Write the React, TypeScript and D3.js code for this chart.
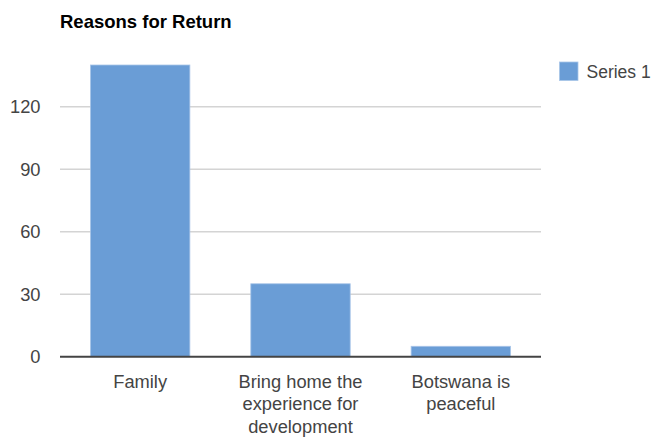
import React from "react";
import * as d3 from "d3";

const categories = ["Family", "Bring home the experience for development", "Botswana is peaceful"];
const categoryLines = [["Family"], ["Bring home the", "experience for", "development"], ["Botswana is", "peaceful"]];
const seriesValues = [140, 35, 5];
const yTicks = [0, 30, 60, 90, 120];
const seriesName = "Series 1";
const title = "Reasons for Return";

export default function App() {
  const W = 655, H = 438;
  const left = 60, right = 541, top = 65, bottom = 356.7;
  const x = d3.scaleBand<string>().domain(categories).range([left, right]).paddingInner(0.38).paddingOuter(0.19);
  const y = d3.scaleLinear().domain([0, 140]).range([bottom, top]);
  const font = "'Liberation Sans', Arial, sans-serif";
  return (
    <svg width={W} height={H} style={{ position: "absolute", left: 0, top: 0 }} fontFamily={font}>
      <rect width={W} height={H} fill="#fff" />
      <text x={60} y={27.5} fontSize={18.5} fontWeight="bold" fill="#000">{title}</text>
      {yTicks.map((t) => (
        <g key={t}>
          {t !== 0 && <line x1={left} x2={right} y1={y(t)} y2={y(t)} stroke="#d4d4d4" strokeWidth={1.5} />}
          <text x={40.5} y={y(t) + 6.5} fontSize={18.3} fill="#444" textAnchor="end">{t}</text>
        </g>
      ))}
      {categories.map((c, i) => (
        <rect key={c} x={x(c)} y={y(seriesValues[i])} width={x.bandwidth()} height={bottom - y(seriesValues[i])}
          fill="#6a9dd6" stroke="#a9c5e8" strokeWidth={0.8} />
      ))}
      <line x1={left} x2={right} y1={bottom} y2={bottom} stroke="#444" strokeWidth={2} />
      {categories.map((c, i) => (
        <text key={c} x={(x(c) as number) + x.bandwidth() / 2} fontSize={18.3} fill="#444" textAnchor="middle">
          {categoryLines[i].map((ln, j) => (
            <tspan key={j} x={(x(c) as number) + x.bandwidth() / 2} y={387.5 + j * 22.5}>{ln}</tspan>
          ))}
        </text>
      ))}
      <rect x={559.5} y={62} width={18.5} height={18.5} fill="#6a9dd6" stroke="#a9c5e8" strokeWidth={0.8} />
      <text x={586.5} y={78} fontSize={17.5} fill="#444">{seriesName}</text>
    </svg>
  );
}
